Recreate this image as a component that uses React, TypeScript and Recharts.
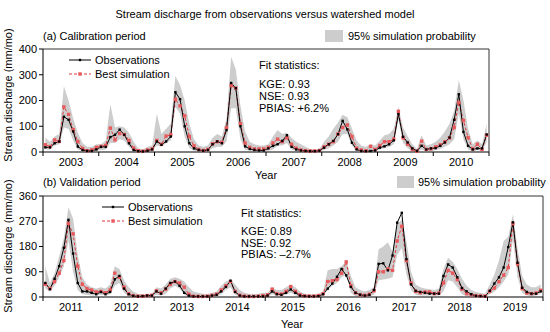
import React from 'react'
import { ComposedChart, Area, Line, XAxis, YAxis, ReferenceLine } from 'recharts'

const FONT = '"Liberation Sans", Arial, sans-serif'
const BAND = '#cdcdcd'
const SIM_RED = '#e0393e'
const SIM_MARK = '#e8595c'

// calibration period, monthly 2003-2010
const calYears = ['2003', '2004', '2005', '2006', '2007', '2008', '2009', '2010']
const calObs = [
  18, 18, 34, 41, 137, 125, 80, 21, 8, 4, 4, 10,
  20, 20, 58, 67, 87, 67, 34, 8, 3, 2, 5, 10,
  41, 28, 41, 60, 232, 205, 100, 34, 14, 8, 5, 8,
  30, 41, 34, 85, 268, 248, 100, 22, 12, 8, 6, 6,
  14, 24, 30, 43, 65, 20, 10, 6, 4, 3, 3, 5,
  17, 30, 43, 69, 121, 88, 36, 10, 4, 3, 4, 6,
  17, 22, 30, 45, 147, 59, 37, 14, 4, 24, 10, 14,
  15, 24, 37, 56, 125, 224, 78, 24, 10, 14, 14, 68,
]
const calSim = [
  28, 21, 47, 41, 175, 146, 87, 41, 14, 5, 8, 18,
  22, 25, 93, 47, 72, 68, 45, 15, 5, 3, 8, 12,
  45, 30, 62, 67, 205, 179, 140, 60, 24, 10, 6, 10,
  32, 40, 38, 95, 258, 248, 110, 35, 18, 12, 12, 12,
  18, 35, 50, 40, 55, 30, 15, 8, 5, 4, 4, 6,
  20, 30, 40, 70, 95, 105, 60, 15, 8, 5, 22, 10,
  25, 40, 40, 50, 158, 55, 30, 10, 3, 42, 10, 12,
  20, 28, 40, 55, 95, 193, 122, 56, 12, 30, 10, 65,
]
const calLow = [
  10, 10, 25, 30, 95, 90, 45, 10, 3, 1, 1, 5,
  8, 10, 35, 35, 50, 45, 20, 3, 0, 0, 2, 5,
  25, 20, 35, 45, 175, 150, 60, 15, 5, 2, 2, 3,
  15, 20, 20, 40, 170, 170, 50, 10, 5, 3, 3, 2,
  5, 10, 25, 25, 35, 10, 3, 1, 0, 0, 0, 0,
  8, 15, 25, 40, 70, 70, 25, 5, 1, 0, 5, 2,
  10, 15, 20, 30, 125, 35, 15, 3, 0, 10, 3, 3,
  8, 12, 20, 30, 50, 150, 50, 10, 2, 8, 3, 40,
]
const calHigh = [
  55, 40, 60, 70, 255, 200, 130, 75, 35, 20, 20, 30,
  30, 45, 185, 95, 100, 95, 75, 40, 15, 10, 20, 25,
  150, 70, 90, 110, 295, 260, 200, 110, 50, 25, 20, 25,
  55, 70, 60, 130, 370, 320, 180, 80, 40, 30, 25, 25,
  30, 60, 85, 70, 75, 55, 40, 30, 20, 12, 10, 12,
  40, 60, 90, 115, 145, 135, 90, 45, 25, 20, 30, 25,
  45, 65, 70, 90, 175, 95, 60, 30, 12, 65, 25, 30,
  40, 55, 80, 110, 160, 280, 200, 90, 30, 45, 30, 110,
]

// validation period, monthly 2011-2019
const valYears = ['2011', '2012', '2013', '2014', '2015', '2016', '2017', '2018', '2019']
const valObs = [
  50, 28, 65, 110, 175, 275, 155, 50, 20, 20, 15, 10,
  18, 10, 18, 63, 75, 30, 10, 4, 2, 3, 5, 5,
  20, 12, 30, 50, 55, 40, 15, 5, 2, 2, 2, 2,
  5, 8, 20, 36, 58, 18, 5, 2, 2, 2, 2, 2,
  5, 20, 10, 8, 15, 27, 15, 5, 3, 2, 2, 3,
  10, 30, 48, 72, 100, 77, 36, 15, 8, 5, 8, 25,
  118, 120, 95, 148, 265, 300, 135, 45, 22, 18, 15, 12,
  12, 12, 75, 116, 105, 70, 32, 20, 10, 4, 3, 2,
  22, 48, 70, 105, 178, 266, 122, 33, 18, 12, 12, 20,
]
const valSim = [
  45, 30, 55, 85, 130, 262, 225, 110, 45, 30, 25, 18,
  20, 15, 25, 85, 70, 35, 12, 5, 3, 3, 5, 6,
  22, 15, 28, 45, 55, 50, 35, 10, 3, 2, 2, 3,
  6, 10, 25, 40, 55, 20, 6, 3, 2, 2, 3, 5,
  8, 28, 12, 10, 20, 37, 20, 8, 4, 3, 3, 5,
  12, 55, 58, 62, 85, 125, 40, 15, 8, 6, 10, 22,
  90, 90, 100, 95, 200, 252, 130, 50, 20, 15, 18, 18,
  12, 14, 50, 95, 85, 62, 28, 12, 8, 5, 4, 3,
  20, 32, 55, 78, 105, 262, 118, 30, 14, 12, 14, 24,
]
const valLow = [
  30, 20, 40, 70, 110, 200, 90, 25, 10, 8, 5, 5,
  8, 5, 10, 40, 50, 15, 3, 0, 0, 0, 0, 1,
  8, 5, 12, 30, 40, 30, 8, 1, 0, 0, 0, 0,
  2, 3, 10, 25, 35, 8, 1, 0, 0, 0, 0, 0,
  2, 10, 5, 4, 8, 15, 6, 1, 0, 0, 0, 0,
  3, 25, 40, 50, 70, 80, 15, 3, 1, 1, 3, 8,
  60, 62, 65, 70, 150, 175, 80, 25, 8, 5, 5, 5,
  5, 5, 20, 60, 55, 35, 10, 3, 1, 0, 0, 0,
  10, 20, 35, 55, 80, 205, 70, 15, 5, 3, 5, 12,
]
const valHigh = [
  110, 50, 85, 145, 210, 320, 280, 150, 70, 45, 35, 30,
  35, 30, 45, 110, 100, 60, 35, 20, 12, 10, 10, 12,
  35, 30, 45, 65, 70, 65, 55, 35, 20, 15, 12, 10,
  15, 20, 40, 55, 62, 45, 25, 15, 12, 10, 12, 15,
  15, 35, 25, 25, 35, 45, 35, 20, 12, 10, 10, 12,
  20, 95, 100, 100, 110, 130, 75, 35, 25, 20, 25, 35,
  170, 180, 195, 160, 260, 275, 200, 90, 45, 35, 30, 28,
  25, 30, 100, 140, 125, 100, 65, 40, 25, 18, 15, 12,
  45, 80, 130, 200, 215, 295, 175, 75, 45, 35, 35, 45,
]

const calYTicks = [0, 100, 200, 300, 400]
const valYTicks = [0, 90, 180, 270, 360]

const buildRows = (obs: number[], sim: number[], low: number[], high: number[]) =>
  obs.map((o, i) => ({ t: i + 0.5, obs: o, sim: sim[i], band: [low[i], high[i]] }))

const calRows = buildRows(calObs, calSim, calLow, calHigh)
const valRows = buildRows(valObs, valSim, valLow, valHigh)

const ObsDot = (props: any) => {
  const { cx, cy, index } = props
  if (cx == null || cy == null) return <g key={`o-${index}`} />
  return <rect key={`o-${index}`} x={cx - 1.2} y={cy - 1.2} width={2.4} height={2.4} fill="#000" />
}

const SimDot = (props: any) => {
  const { cx, cy, index } = props
  if (cx == null || cy == null) return <g key={`s-${index}`} />
  return <rect key={`s-${index}`} x={cx - 1.7} y={cy - 1.7} width={3.4} height={3.4} fill={SIM_MARK} />
}

// year labels sit mid-year, tick marks at year boundaries
const makeYearTick = (years: string[], halfPx: number) => (props: any) => {
  const { x, y, payload } = props
  const idx = Math.round(payload.value / 12)
  if (idx >= years.length) return <g />
  return (
    <text x={x + halfPx} y={y} dy="0.71em" textAnchor="middle" fontSize={11} fill="#000" fontFamily={FONT}>
      {years[idx]}
    </text>
  )
}

function Panel({
  rows,
  years,
  yTicks,
  width,
  height,
  margin,
  xHeight,
}: {
  rows: any[]
  years: string[]
  yTicks: number[]
  width: number
  height: number
  margin: { top: number; right: number; bottom: number; left: number }
  xHeight: number
}) {
  const months = years.length * 12
  const plotW = width - margin.left - margin.right - 43
  const halfPx = (plotW / months) * 6
  const xTicks = years.map((_, i) => i * 12).concat(months)
  const yMax = yTicks[yTicks.length - 1]
  return (
    <ComposedChart width={width} height={height} data={rows} margin={margin}>
      <XAxis
        dataKey="t"
        type="number"
        domain={[0, months]}
        ticks={xTicks}
        interval={0}
        tick={makeYearTick(years, halfPx)}
        tickSize={4}
        height={xHeight}
        axisLine={{ stroke: '#000' }}
        tickLine={{ stroke: '#000' }}
      />
      <YAxis
        domain={[0, yMax]}
        ticks={yTicks}
        interval={0}
        width={43}
        tickSize={4}
        tick={{ fontSize: 11, fill: '#000', fontFamily: FONT }}
        axisLine={{ stroke: '#000' }}
        tickLine={{ stroke: '#000' }}
      />
      <Area
        type="linear"
        dataKey="band"
        stroke="none"
        fill={BAND}
        fillOpacity={1}
        isAnimationActive={false}
        activeDot={false}
      />
      <Line
        type="linear"
        dataKey="sim"
        stroke={SIM_RED}
        strokeWidth={1}
        strokeDasharray="3 2"
        dot={SimDot}
        activeDot={false}
        isAnimationActive={false}
      />
      <Line
        type="linear"
        dataKey="obs"
        stroke="#000"
        strokeWidth={1}
        dot={ObsDot}
        activeDot={false}
        isAnimationActive={false}
      />
      <ReferenceLine y={yMax} stroke="#333" strokeWidth={1} />
      <ReferenceLine x={months} stroke="#333" strokeWidth={1} />
    </ComposedChart>
  )
}

function LegendLines({ x, y1, y2 }: { x: number; y1: number; y2: number }) {
  return (
    <g>
      <line x1={x} x2={x + 22} y1={y1} y2={y1} stroke="#000" strokeWidth={1} />
      <rect x={x + 9.8} y={y1 - 1.2} width={2.4} height={2.4} fill="#000" />
      <text x={x + 26} y={y1} dominantBaseline="central">Observations</text>
      <line x1={x} x2={x + 22} y1={y2} y2={y2} stroke={SIM_RED} strokeWidth={1} strokeDasharray="3 2" />
      <rect x={x + 9.3} y={y2 - 1.7} width={3.4} height={3.4} fill={SIM_MARK} />
      <text x={x + 26} y={y2} dominantBaseline="central">Best simulation</text>
    </g>
  )
}

export default function App() {
  return (
    <div style={{ position: 'absolute', left: 0, top: 0, width: 550, height: 332, background: '#fff', fontFamily: FONT }}>
      <div style={{ position: 'absolute', left: 0, top: 0 }}>
        <Panel
          rows={calRows}
          years={calYears}
          yTicks={calYTicks}
          width={550}
          height={175}
          margin={{ top: 49, right: 61, bottom: 0, left: 0 }}
          xHeight={23}
        />
      </div>
      <div style={{ position: 'absolute', left: 0, top: 165 }}>
        <Panel
          rows={valRows}
          years={valYears}
          yTicks={valYTicks}
          width={550}
          height={167}
          margin={{ top: 31, right: 7, bottom: 0, left: 0 }}
          xHeight={35}
        />
      </div>
      <svg
        width={550}
        height={332}
        style={{ position: 'absolute', left: 0, top: 0, pointerEvents: 'none' }}
        fontFamily={FONT}
        fontSize={11}
        fill="#000"
      >
        <text x={265} y={14} textAnchor="middle" dominantBaseline="central">
          Stream discharge from observations versus watershed model
        </text>

        <text x={43} y={36} dominantBaseline="central">(a) Calibration period</text>
        <rect x={325} y={30} width={18} height={12} fill={BAND} />
        <text x={348} y={36} dominantBaseline="central">95% simulation probability</text>
        <LegendLines x={69} y1={60} y2={74} />
        <text x={259} y={65} dominantBaseline="central">Fit statistics:</text>
        <text x={259} y={84} dominantBaseline="central">KGE: 0.93</text>
        <text x={259} y={96} dominantBaseline="central">NSE: 0.93</text>
        <text x={259} y={108} dominantBaseline="central">PBIAS: +6.2%</text>
        <text x={266} y={175} textAnchor="middle" dominantBaseline="central">Year</text>
        <text x={8} y={95} textAnchor="middle" dominantBaseline="central" transform="rotate(-90, 8, 95)">
          Stream discharge (mm/mo)
        </text>

        <text x={43} y={182} dominantBaseline="central">(b) Validation period</text>
        <rect x={397} y={176} width={17} height={12} fill={BAND} />
        <text x={418} y={182} dominantBaseline="central">95% simulation probability</text>
        <LegendLines x={102} y1={207} y2={221} />
        <text x={241} y={213} dominantBaseline="central">Fit statistics:</text>
        <text x={241} y={231} dominantBaseline="central">KGE: 0.89</text>
        <text x={241} y={243} dominantBaseline="central">NSE: 0.92</text>
        <text x={241} y={254} dominantBaseline="central">PBIAS: –2.7%</text>
        <text x={292} y={324} textAnchor="middle" dominantBaseline="central">Year</text>
        <text x={8} y={246} textAnchor="middle" dominantBaseline="central" transform="rotate(-90, 8, 246)">
          Stream discharge (mm/mo)
        </text>
      </svg>
    </div>
  )
}
